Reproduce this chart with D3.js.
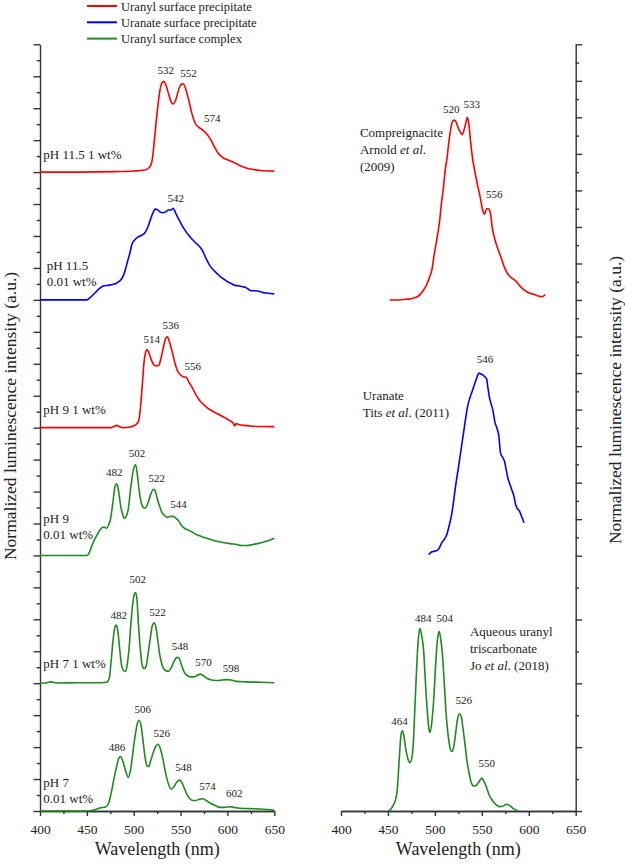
<!DOCTYPE html>
<html>
<head>
<meta charset="utf-8">
<script src="https://cdn.jsdelivr.net/npm/d3@7"></script>
<style>
  body { margin: 0; background: #fff; }
  text { font-family: "Liberation Serif", "Times New Roman", serif; fill: #222; }
</style>
</head>
<body>
<svg id="chart" width="625" height="867"></svg>
<script>
// spectra, [wavelength nm, normalized intensity]
var ph115_1wt = [[400,0],[440,0],[480,0.005],[500,0.012],[510,0.02],[514,0.03],[518,0.07],[520,0.15],[522,0.35],[525,0.66],[528,0.9],[530,0.98],[532,1.0],[534,0.97],[537,0.87],[540,0.77],[542,0.75],[545,0.8],[548,0.91],[551,0.97],[553,0.97],[556,0.9],[559,0.78],[562,0.65],[566,0.53],[570,0.49],[574,0.46],[578,0.42],[582,0.36],[586,0.28],[590,0.21],[595,0.16],[600,0.135],[605,0.115],[610,0.09],[615,0.065],[620,0.045],[628,0.028],[635,0.018],[650,0.011]];
var ph115_001wt = [[400,0],[450,0],[454,0.03],[458,0.07],[463,0.12],[468,0.155],[473,0.16],[477,0.17],[481,0.18],[484,0.2],[487,0.23],[489,0.27],[491,0.33],[493,0.41],[496,0.52],[498,0.61],[501,0.66],[504,0.69],[508,0.71],[512,0.74],[515,0.8],[518,0.89],[521,0.97],[523,1.0],[526,0.99],[528,0.97],[531,0.96],[534,0.97],[537,0.99],[540,0.99],[542,1.01],[545,0.95],[548,0.89],[551,0.83],[554,0.78],[558,0.72],[562,0.67],[566,0.63],[570,0.59],[573,0.55],[577,0.46],[581,0.38],[585,0.33],[589,0.29],[592,0.26],[596,0.23],[600,0.2],[604,0.18],[608,0.16],[612,0.155],[616,0.145],[619,0.14],[622,0.12],[625,0.1],[630,0.1],[635,0.09],[638,0.08],[642,0.075],[646,0.07],[650,0.066]];
var ph9_1wt = [[400,0],[476,0],[479,0.015],[482,0.025],[485,0.01],[488,0],[495,0.005],[500,0.02],[503,0.04],[505,0.066],[507,0.2],[509,0.45],[511,0.72],[513,0.84],[514,0.86],[516,0.83],[518,0.77],[521,0.7],[524,0.68],[527,0.69],[529,0.76],[532,0.9],[534,0.98],[536,1.0],[538,0.95],[541,0.84],[544,0.71],[547,0.62],[550,0.58],[553,0.56],[556,0.555],[559,0.5],[562,0.45],[566,0.37],[571,0.29],[576,0.24],[581,0.2],[587,0.165],[592,0.14],[597,0.11],[602,0.08],[606,0.05],[608,0.02],[609,0.045],[612,0.035],[618,0.025],[624,0.019],[635,0.013],[650,0.011]];
var ph9_001wt = [[400,0],[450,0],[453,0.04],[455,0.1],[458,0.17],[461,0.23],[464,0.28],[467,0.31],[469,0.31],[471,0.3],[473,0.33],[475,0.39],[478,0.6],[480,0.76],[482,0.79],[484,0.7],[486,0.55],[488,0.46],[490,0.41],[492,0.43],[494,0.5],[497,0.76],[500,0.96],[502,1.0],[504,0.88],[506,0.7],[508,0.58],[510,0.53],[512,0.52],[515,0.57],[518,0.67],[521,0.73],[523,0.71],[525,0.63],[528,0.53],[530,0.475],[533,0.44],[536,0.42],[539,0.43],[542,0.43],[544,0.42],[546,0.4],[548,0.38],[551,0.33],[554,0.3],[558,0.28],[562,0.26],[567,0.23],[572,0.21],[578,0.19],[585,0.165],[592,0.15],[597,0.14],[603,0.13],[610,0.12],[615,0.11],[621,0.11],[627,0.12],[632,0.13],[638,0.145],[644,0.165],[648,0.18],[650,0.19]];
var ph7_1wt = [[400,0],[408,0.005],[411,0.015],[414,0.01],[418,0.003],[440,0.005],[465,0.005],[471,0.01],[474,0.06],[476,0.25],[478,0.48],[480,0.62],[481.5,0.64],[483,0.58],[485,0.38],[487,0.2],[489,0.14],[491,0.13],[493,0.2],[495,0.38],[497,0.66],[499,0.88],[501,0.99],[502,1.0],[503.5,0.92],[505,0.66],[507,0.38],[509,0.2],[511,0.16],[513,0.18],[515,0.3],[518,0.52],[520,0.64],[522,0.665],[524,0.6],[526,0.45],[528,0.3],[531,0.18],[534,0.14],[537,0.13],[540,0.17],[543,0.24],[546,0.285],[548,0.28],[551,0.2],[554,0.12],[557,0.085],[561,0.07],[565,0.072],[568,0.09],[571,0.1],[574,0.085],[578,0.055],[583,0.035],[588,0.03],[594,0.035],[599,0.04],[604,0.035],[610,0.02],[620,0.015],[635,0.01],[650,0.005]];
var ph7_001wt = [[400,0],[450,0],[455,0.005],[460,0.02],[465,0.035],[470,0.045],[473,0.08],[476,0.2],[479,0.36],[482,0.5],[484,0.58],[486,0.6],[488,0.56],[490,0.49],[492,0.42],[494,0.37],[496,0.42],[498,0.55],[500,0.72],[502,0.86],[504,0.97],[506,1.0],[508,0.93],[510,0.77],[512,0.6],[514,0.5],[516,0.49],[518,0.55],[521,0.65],[524,0.72],[526,0.735],[528,0.7],[531,0.58],[534,0.42],[537,0.3],[540,0.24],[543,0.27],[546,0.32],[549,0.34],[551,0.32],[554,0.25],[557,0.18],[560,0.135],[563,0.115],[566,0.115],[570,0.13],[574,0.135],[578,0.11],[582,0.085],[587,0.06],[592,0.04],[597,0.04],[602,0.047],[607,0.04],[613,0.03],[620,0.027],[628,0.025],[635,0.022],[642,0.016],[650,0.007]];

// reference spectra
var compreignacite = [[452,0],[460,0],[466,0.003],[473,0.005],[478,0.012],[482,0.02],[485,0.035],[488,0.055],[491,0.08],[494,0.12],[497,0.17],[499,0.24],[502,0.33],[505,0.43],[507,0.53],[509,0.61],[511,0.71],[513,0.78],[515,0.87],[517,0.94],[519,0.98],[521,0.985],[523,0.97],[525,0.94],[527,0.92],[529,0.905],[531,0.93],[533,0.97],[534.5,1.0],[536,0.97],[538,0.87],[540,0.78],[542,0.72],[545,0.64],[548,0.57],[551,0.49],[553,0.47],[555,0.5],[557,0.5],[559,0.48],[561,0.4],[564,0.33],[567,0.28],[570,0.24],[574,0.18],[578,0.14],[582,0.12],[586,0.105],[590,0.08],[594,0.06],[598,0.045],[602,0.035],[606,0.03],[610,0.022],[614,0.018],[616,0.022],[617.5,0.03]];
var uranateTits = [[493.5,0.005],[495,0.015],[497,0.022],[500,0.025],[503,0.031],[505,0.045],[507,0.068],[510,0.09],[512.5,0.113],[515,0.16],[518,0.23],[520,0.3],[521.5,0.36],[523,0.415],[525,0.48],[527,0.55],[529,0.62],[531,0.69],[533,0.76],[535,0.82],[537,0.86],[539,0.89],[541,0.92],[543,0.95],[545,0.98],[547,1.0],[549,0.995],[551,0.99],[553,0.98],[555,0.97],[556.5,0.92],[558,0.87],[560,0.83],[562,0.79],[564,0.73],[566,0.7],[568,0.66],[570,0.56],[572,0.54],[574,0.52],[576,0.47],[578,0.42],[580,0.39],[582,0.36],[584,0.33],[586,0.28],[587.5,0.26],[590,0.245],[592,0.22],[595,0.18]];
var triscarbonate = [[450.5,0],[453,0.01],[456,0.035],[458,0.06],[460,0.12],[462,0.28],[464,0.42],[465.5,0.44],[467,0.41],[469,0.34],[471,0.29],[473,0.265],[475,0.28],[477,0.37],[479,0.6],[481,0.83],[482.5,0.95],[484,1.0],[486,0.96],[488,0.88],[490,0.7],[492,0.54],[494,0.44],[495,0.43],[497,0.5],[499,0.63],[501,0.82],[503,0.95],[504.5,0.985],[506,0.95],[508,0.86],[510,0.7],[512,0.53],[514,0.42],[516,0.35],[518,0.326],[520,0.35],[522,0.42],[524,0.5],[526,0.533],[528,0.52],[530,0.45],[532,0.37],[534,0.28],[536,0.22],[538,0.17],[541,0.137],[544,0.14],[547,0.16],[550,0.18],[552,0.165],[555,0.13],[558,0.085],[561,0.06],[565,0.035],[569,0.024],[573,0.028],[576.5,0.037],[580,0.028],[584,0.012],[589,0]];

var xTicks = [400, 450, 500, 550, 600, 650];
var xMinor = [425, 475, 525, 575, 625];

var legendNames = ["Uranyl surface precipitate", "Uranate surface precipitate", "Uranyl surface complex"];
var legendColors = ["#ff0000", "#0000ff", "#1f8a1f"];

// peak labels: [text, wavelength, axis units]
var leftPeaks = [
  ["532",534.2,23.06],["552",558.4,22.98],["574",583.7,21.57],
  ["542",544.9,19.06],
  ["514",519.3,14.65],["536",539.6,15.10],["556",563.1,13.82],
  ["482",479.3,10.48],["502",503.6,11.09],["522",524.6,10.30],["544",547.7,9.49],
  ["502",504.3,7.14],["482",484,6.01],["522",525.3,6.11],["548",549.5,5.04],["570",574.4,4.54],["598",603.7,4.34],
  ["506",509.7,3.08],["526",530,2.32],["486",482.2,1.89],["548",553,1.26],["574",578.7,0.66],["602",607.2,0.43]
];
var rightPeaks = [
  ["520",517.5,32.23],["533",539.2,32.5],["556",563.3,27.57],
  ["546",553.4,18.57],
  ["464",462.3,2.7],["484",487.7,5.93],["504",510.5,5.93],["526",530.7,3.35],["550",555.2,1.37]
];

var leftNotes = [
  [["pH 11.5 1 wt%"], 403.5, 20.42],
  [["pH 11.5", "0.01 wt%"], 407.2, 16.93],
  [["pH 9 1 wt%"], 403.5, 12.44],
  [["pH 9", "0.01 wt%"], 403.5, 9.02],
  [["pH 7 1 wt%"], 403.5, 4.47],
  [["pH 7", "0.01 wt%"], 403.5, 0.76]
];
// each line is a list of [text, italic]
var rightNotes = [
  [[[["Compreignacite",0]], [["Arnold ",0],["et al",1],[".",0]], [["(2009)",0]]], 420.2, 30.93],
  [[[["Uranate",0]], [["Tits ",0],["et al",1],[". (2011)",0]]], 423.1, 16.53],
  [[[["Aqueous uranyl",0]], [["triscarbonate",0]], [["Jo ",0],["et al",1],[". (2018)",0]]], 537.4, 5.48]
];

var svg = d3.select("#chart");
var axisColor = "#333";

var xL = d3.scaleLinear().domain([400, 650]).range([40, 274.3]);
var yL = d3.scaleLinear().domain([0, 24]).range([811, 44.3]);
var xR = d3.scaleLinear().domain([400, 650]).range([341, 575.7]);
var yR = d3.scaleLinear().domain([0, 8, 36]).range([811, 555.7, 44.3]);

var peakL = 2.84;
var leftSeries = [
  {data: ph115_1wt, base: 20, color: legendColors[0]},
  {data: ph115_001wt, base: 16, color: legendColors[1]},
  {data: ph9_1wt, base: 12, color: legendColors[0]},
  {data: ph9_001wt, base: 8, color: legendColors[2]},
  {data: ph7_1wt, base: 4, color: legendColors[2]},
  {data: ph7_001wt, base: 0, color: legendColors[2]}
];
var rightSeries = [
  {data: compreignacite, base: 22, h: 10, color: legendColors[0]},
  {data: uranateTits, base: 8, h: 10, color: legendColors[1]},
  {data: triscarbonate, base: 0, h: 5.72, color: legendColors[2]}
];

function styleAxis(g) {
  g.select(".domain").attr("stroke", axisColor).attr("stroke-width", 1.4);
  g.selectAll(".tick line").attr("stroke", axisColor).attr("stroke-width", 1.4);
  g.selectAll(".tick text").style("font-size", "13.5px").attr("fill", "#222")
    .style("font-family", '"Liberation Serif", serif');
}

function drawPanel(x, y, side, yMajor, yMinor) {
  var xa = svg.append("g").attr("transform", "translate(0,811)");
  xa.call(d3.axisBottom(x).tickValues(xTicks).tickSize(5).tickSizeOuter(0).tickPadding(8).tickFormat(d3.format("d")));
  styleAxis(xa);
  var xm = svg.append("g").attr("transform", "translate(0,811)");
  xm.call(d3.axisBottom(x).tickValues(xMinor).tickSize(3).tickSizeOuter(0).tickFormat(""));
  styleAxis(xm);

  var ax = side === "left" ? d3.axisLeft : d3.axisRight;
  var pos = side === "left" ? x(400) : x(650);
  var ya = svg.append("g").attr("transform", "translate(" + pos + ",0)");
  ya.call(ax(y).tickValues(yMajor).tickSize(6.5).tickSizeOuter(0).tickFormat(""));
  styleAxis(ya);
  var ym = svg.append("g").attr("transform", "translate(" + pos + ",0)");
  ym.call(ax(y).tickValues(yMinor).tickSize(3.3).tickSizeOuter(0).tickFormat(""));
  styleAxis(ym);
  ym.select(".domain").remove();

  svg.append("text")
    .attr("x", (x.range()[0] + x.range()[1]) / 2)
    .attr("y", 855)
    .attr("text-anchor", "middle")
    .style("font-size", "18px")
    .text("Wavelength (nm)");
}

drawPanel(xL, yL, "left", d3.range(0, 25), d3.range(0.5, 24, 1));
drawPanel(xR, yR, "right", d3.range(0, 37, 2), d3.range(1, 37, 2));

// y titles
svg.append("text")
  .attr("transform", "translate(16,416) rotate(-90)")
  .attr("text-anchor", "middle")
  .style("font-size", "17.5px")
  .text("Normalized luminescence intensity (a.u.)");
svg.append("text")
  .attr("transform", "translate(621,400) rotate(-90)")
  .attr("text-anchor", "middle")
  .style("font-size", "17.5px")
  .text("Normalized luminescence intensity (a.u.)");

// traces
leftSeries.forEach(function (s) {
  var line = d3.line()
    .x(function (d) { return xL(d[0]); })
    .y(function (d) { return yL(s.base + peakL * d[1]); })
    .curve(d3.curveMonotoneX);
  svg.append("path").attr("d", line(s.data))
    .attr("fill", "none").attr("stroke", s.color).attr("stroke-width", 1.6);
});
rightSeries.forEach(function (s) {
  var line = d3.line()
    .x(function (d) { return xR(d[0]); })
    .y(function (d) { return yR(s.base + s.h * d[1]); })
    .curve(d3.curveMonotoneX);
  svg.append("path").attr("d", line(s.data))
    .attr("fill", "none").attr("stroke", s.color).attr("stroke-width", 1.6);
});

// peak labels
function peakLabels(list, x, y) {
  svg.append("g").selectAll("text")
    .data(list)
    .enter()
    .append("text")
      .attr("x", function (d) { return x(d[1]); })
      .attr("y", function (d) { return y(d[2]); })
      .attr("text-anchor", "middle")
      .style("font-size", "11px")
      .text(function (d) { return d[0]; });
}
peakLabels(leftPeaks, xL, yL);
peakLabels(rightPeaks, xR, yR);

// sample notes
leftNotes.forEach(function (n) {
  var t = svg.append("text")
    .attr("x", xL(n[1])).attr("y", yL(n[2]))
    .style("font-size", "13px");
  n[0].forEach(function (s, i) {
    t.append("tspan").attr("x", xL(n[1])).attr("dy", i ? 16 : 0).text(s);
  });
});
rightNotes.forEach(function (n) {
  var t = svg.append("text")
    .attr("x", xR(n[1])).attr("y", yR(n[2]))
    .style("font-size", "13px");
  n[0].forEach(function (lineParts, i) {
    lineParts.forEach(function (p, j) {
      var sp = t.append("tspan").text(p[0]);
      if (j === 0) sp.attr("x", xR(n[1])).attr("dy", i ? 17 : 0);
      if (p[1]) sp.style("font-style", "italic");
    });
  });
});

// legend
var legend = svg.append("g").selectAll("g")
  .data(legendNames)
  .enter()
  .append("g")
    .attr("transform", function (d, i) { return "translate(87," + (6 + i * 16.3) + ")"; });
legend.append("line")
  .attr("x1", 0).attr("x2", 30).attr("y1", 0).attr("y2", 0)
  .attr("stroke", function (d, i) { return legendColors[i]; })
  .attr("stroke-width", 2);
legend.append("text")
  .attr("x", 34).attr("y", 4.5)
  .style("font-size", "12.6px")
  .text(function (d) { return d; });
</script>
</body>
</html>
